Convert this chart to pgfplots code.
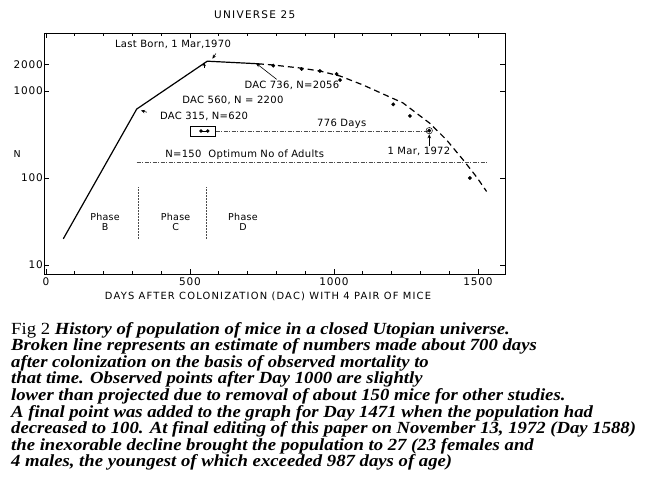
\documentclass[border=0pt]{standalone}
\usepackage{pgfplots}
\pgfplotsset{compat=1.18}
\usepackage{fontspec}
\setmainfont{Liberation Serif}
\newfontfamily\capfont{Liberation Serif}[FakeStretch=1.1]
\newfontfamily\lab{DejaVu Sans}[LetterSpace=3]
\newfontfamily\labw{DejaVu Sans}[LetterSpace=12]
\newfontfamily\labt{DejaVu Sans}[LetterSpace=8]
\usetikzlibrary{arrows.meta}
\newcommand{\lf}[1]{\lab\fontsize{#1}{#1}\selectfont}
\begin{document}
\begin{tikzpicture}[x=1pt,y=1pt]
\begin{axis}[
  at={(0,0)}, anchor=south west,
  scale only axis, width=461pt, height=241pt,
  xmin=-7, xmax=1594,
  ymode=log, ymin=7.88, ymax=4640,
  xtick={0,500,1000,1500}, xticklabels={0,500,1000,1500},
  minor xtick={100,200,300,400,600,700,800,900,1100,1200,1300,1400},
  ytick={10,100,1000,2000}, yticklabels={10,100,1000,2000},
  tick align=inside, major tick length=5pt, minor tick length=3pt,
  every tick/.style={black, line width=0.7pt},
  axis line style={line width=0.9pt},
  ticklabel style={font=\labt\fontsize{10.5}{10.5}\selectfont},
  yticklabel style={inner sep=1pt},
  clip=false,
]
% solid observed line
\addplot[black, line width=1.2pt] coordinates {(60,20) (315,620) (560,2200) (736,2056)};
% broken (projected) line
\addplot[black, line width=1.2pt, dash pattern=on 6pt off 4pt] coordinates {
  (736,2056) (788,1990) (882,1838) (951,1698) (1021,1486) (1101,1172)
  (1240,728) (1333,425) (1391,274) (1449,161) (1495,103) (1530,70)};
% observed points
\addplot[only marks, mark=*, mark size=1.7pt, black] coordinates {
  (789,1955) (888,1790) (951,1698) (1009,1567) (1021,1337)
  (1206,703) (1264,516) (1331,350) (1472,100)};
% optimum adults line
\addplot[black!70, line width=0.5pt, dash pattern=on 4pt off 1.5pt on 1pt off 1.5pt] coordinates {(315,150) (1535,150)};
% 776 days line
\addplot[black!70, line width=0.5pt, dash pattern=on 4pt off 1.5pt on 1pt off 1.5pt] coordinates {(589,347) (1326,347)};
% phase dividers
\addplot[black!70, line width=0.5pt, densely dotted] coordinates {(320,20) (320,79)};
\addplot[black!70, line width=0.5pt, densely dotted] coordinates {(555,20) (555,79)};
% box marker
\draw[line width=0.6pt] (axis cs:502,304) rectangle (axis cs:589,389);
\addplot[black, line width=0.8pt, mark=*, mark size=1.3pt] coordinates {(538,347) (562,347)};
% circle around 1 Mar 1972 point
\draw[line width=0.5pt] (axis cs:1331,350) circle (3.2pt);
% arrows
\draw[line width=0.6pt, -{Stealth[length=4pt,width=3.5pt]}] (axis cs:1331,232) -- (axis cs:1331,318);
\draw[line width=0.6pt, -{Stealth[length=4.5pt,width=3.5pt]}] (axis cs:801,1361) -- (axis cs:729,2090);
\draw[-{Stealth[length=4pt,width=3.5pt]}, line width=0.6pt] (axis cs:350,570) -- (axis cs:330,598);
\draw[-{Stealth[length=4pt,width=3.5pt]}, line width=0.6pt] (axis cs:590,2700) -- (axis cs:578,2350);
\draw[-{Stealth[length=4pt,width=3.5pt]}, line width=0.6pt] (axis cs:549,1850) -- (axis cs:549,2140);
% texts
\node[font=\lf{10}] at (axis cs:441,3444) {Last Born, 1 Mar,1970};
\node[font=\lf{10}] at (axis cs:854,1172) {DAC 736, N=2056};
\node[font=\lf{10}] at (axis cs:649,788) {DAC 560, N = 2200};
\node[font=\lf{10}] at (axis cs:549,507) {DAC 315, N=620};
\node[font=\lf{10}] at (axis cs:1027,418) {776 Days};
\node[font=\lf{10}] at (axis cs:1295,204) {1 Mar, 1972};
\node[font=\lf{10}] at (axis cs:690,184) {N=150\ \ Optimum No of Adults};
\node[font=\lf{9.5}, align=center] at (axis cs:205,31.2) {Phase\\[1pt]B};
\node[font=\lf{9.5}, align=center] at (axis cs:450,31.2) {Phase\\[1pt]C};
\node[font=\lf{9.5}, align=center] at (axis cs:684,31.2) {Phase\\[1pt]D};
\end{axis}
% outside texts (1pt = 1px of the reference, origin at axis SW corner)
\node[font=\labw\fontsize{10.5}{10.5}\selectfont] at (210.7,259) {UNIVERSE 25};
\node[font=\lf{9.5}] at (-26.7,120) {N};
\node[font=\labw\fontsize{9.9}{9.9}\selectfont] at (224,-22) {DAYS AFTER COLONIZATION (DAC) WITH 4 PAIR OF MICE};
\begin{scope}[every node/.style={anchor=base west, inner sep=0pt, font=\capfont\fontsize{17}{17}\selectfont\bfseries\itshape}]
\node at (-33,-60.3) {\mdseries\upshape Fig 2 \bfseries\itshape History of population of mice in a closed Utopian universe.};
\node at (-33,-76.9) {Broken line represents an estimate of numbers made about 700 days};
\node at (-33,-93.4) {after colonization on the basis of observed mortality to};
\node at (-33,-110) {that time. Observed points after Day 1000 are slightly};
\node at (-33,-126.5) {lower than projected due to removal of about 150 mice for other studies.};
\node at (-33,-143.1) {A final point was added to the graph for Day 1471 when the population had};
\node at (-33,-159.6) {decreased to 100. At final editing of this paper on November 13, 1972 (Day 1588)};
\node at (-33,-176.2) {the inexorable decline brought the population to 27 (23 females and};
\node at (-33,-192.7) {4 males, the youngest of which exceeded 987 days of age)};
\end{scope}
\pgfresetboundingbox
\path[use as bounding box] (-44,-218) rectangle (612,274);
\end{tikzpicture}
\end{document}
